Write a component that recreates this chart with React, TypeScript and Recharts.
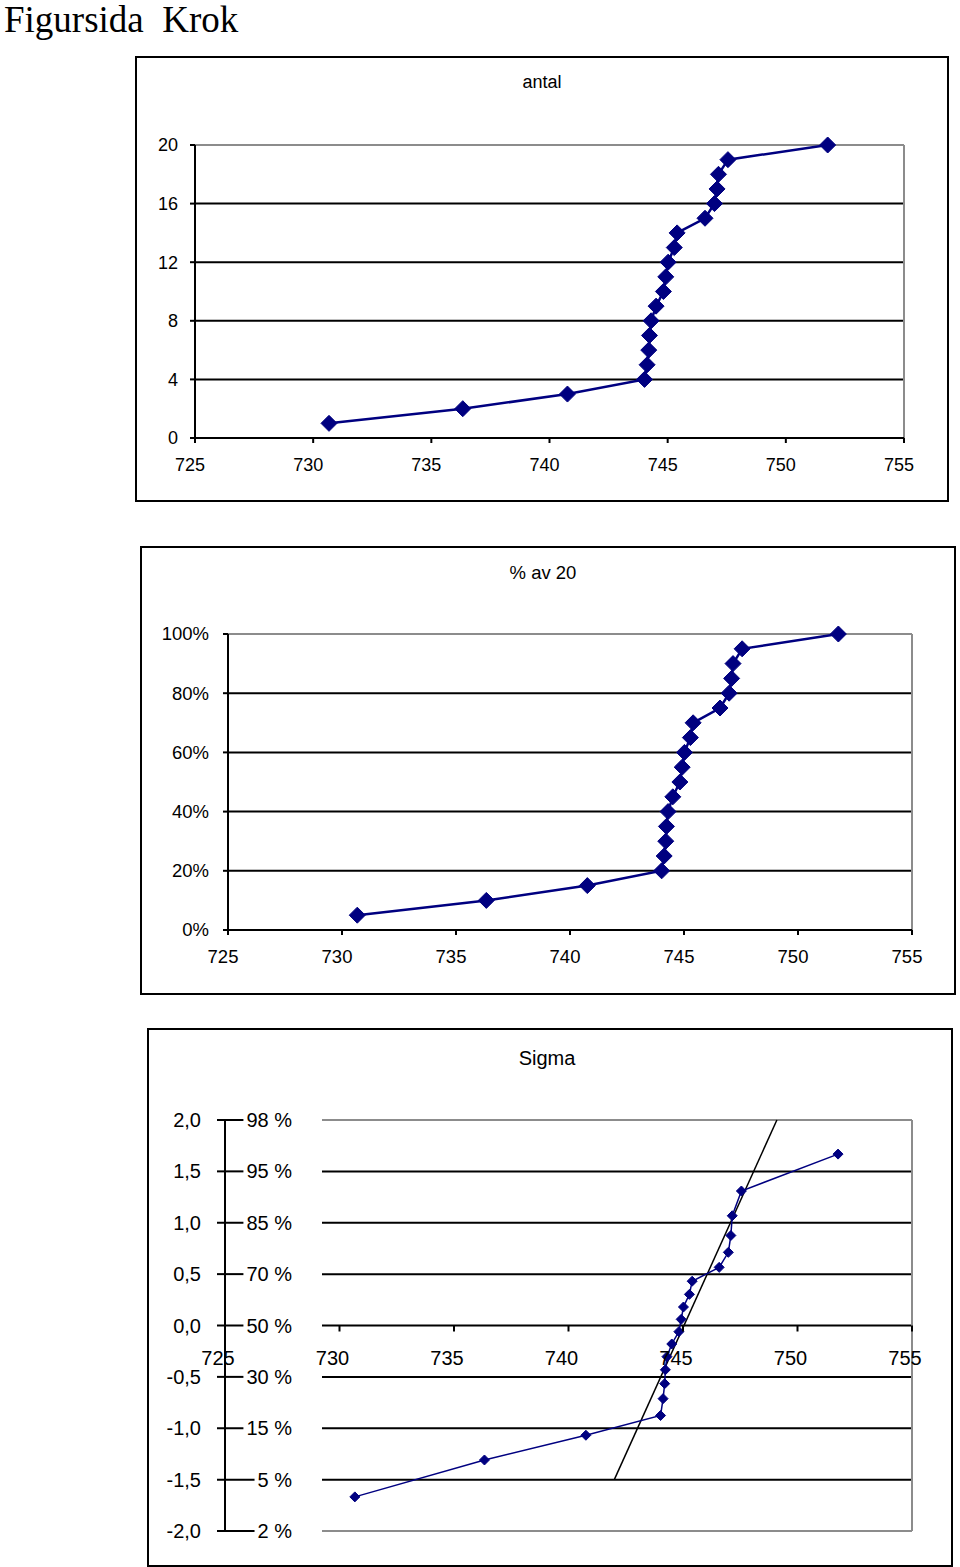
import React from 'react';
import { ComposedChart, Line, XAxis, YAxis, CartesianGrid, ReferenceLine } from 'recharts';

// ---- data ----
const measurements = [730.67, 736.33, 740.76, 744.02, 744.13, 744.2, 744.23, 744.3, 744.51, 744.82, 744.92, 745.02, 745.28, 745.4, 746.58, 746.98, 747.09, 747.15, 747.55, 751.77];
const counts = [1, 2, 3, 4, 5, 6, 7, 8, 9, 10, 11, 12, 13, 14, 15, 16, 17, 18, 19, 20];
const percentOfTotal = [5, 10, 15, 20, 25, 30, 35, 40, 45, 50, 55, 60, 65, 70, 75, 80, 85, 90, 95, 100];
const sigmaScores = [-1.668, -1.309, -1.068, -0.876, -0.712, -0.566, -0.431, -0.303, -0.18, -0.06, 0.06, 0.18, 0.303, 0.431, 0.566, 0.712, 0.876, 1.068, 1.309, 1.668];
const fitLineX = [742.0, 749.1];
const fitLineSigma = [-1.5, 2.0];

const xTicks = [725, 730, 735, 740, 745, 750, 755];
const countTicks = [0, 4, 8, 12, 16, 20];
const percentTicks = [0, 20, 40, 60, 80, 100];
const sigmaTicks = [-2, -1.5, -1, -0.5, 0, 0.5, 1, 1.5, 2];
const sigmaPercentLabels = ['2 %', '5 %', '15 %', '30 %', '50 %', '70 %', '85 %', '95 %', '98 %'];

const countData = measurements.map((x, i) => ({ x, y: counts[i] }));
const percentData = measurements.map((x, i) => ({ x, y: percentOfTotal[i] }));
const sigmaData = measurements.map((x, i) => ({ x, y: sigmaScores[i] }));
const fitData = fitLineX.map((x, i) => ({ x, y: fitLineSigma[i] }));

const NAVY = '#000080';
const GRAY = '#8c8c8c';
const FONT = '"Liberation Sans", Arial, Helvetica, sans-serif';

const makeDot = (r: number) => (p: any) => {
  const { cx, cy, index } = p;
  if (cx == null || cy == null) return <g key={`e-${index}`} />;
  return (
    <polygon
      key={`d-${index}`}
      points={`${cx},${cy - r} ${cx + r},${cy} ${cx},${cy + r} ${cx - r},${cy}`}
      fill={NAVY}
      stroke={NAVY}
      strokeWidth={1}
    />
  );
};

const makeGrid = (top: number, bottom: number, shift: number, grayBottom: boolean) => (p: any) => {
  const isTop = Math.abs(p.y1 - top) < 1.5;
  const isBottom = Math.abs(p.y1 - bottom) < 1.5;
  const gray = isTop || (grayBottom && isBottom);
  return (
    <line
      key={`g-${p.index}-${p.y1}`}
      x1={p.x1 + shift}
      x2={p.x2}
      y1={p.y1}
      y2={p.y2}
      stroke={gray ? GRAY : '#000'}
      strokeWidth={2}
    />
  );
};

const makeXTick = (fontSize: number, dx: number, dy: number) => (p: any) => (
  <text x={p.x + dx} y={p.y + dy} textAnchor="middle" fontFamily={FONT} fontSize={fontSize} fill="#000">
    {p.payload.value}
  </text>
);

const makeYTick = (fontSize: number, dx: number, fmt: (v: number) => string) => (p: any) => (
  <text x={p.x + dx} y={p.y + fontSize * 0.35} textAnchor="end" fontFamily={FONT} fontSize={fontSize} fill="#000">
    {fmt(p.payload.value)}
  </text>
);

// Chart 3 geometry (positions/styles only)
const S_W = 804;
const S_H = 537;
const S_TOP = 91;
const S_YAXIS_W = 77;
const S_RIGHT = 40;
const S_XAXIS_H = 30;
const S_BOTTOM = 5;
const S_PLOT_H = S_H - S_TOP - S_XAXIS_H - S_BOTTOM;

const SigmaXTick = (p: any) => {
  const y0 = p.y - S_PLOT_H / 2;
  return (
    <g>
      <line x1={p.x} x2={p.x} y1={y0} y2={y0 + 6} stroke="#000" strokeWidth={2} />
      <text x={p.x - 7} y={y0 + 39} textAnchor="middle" fontFamily={FONT} fontSize={20} fill="#000">
        {p.payload.value}
      </text>
    </g>
  );
};

const SigmaYTick = (p: any) => {
  const v = p.payload.value;
  const idx = sigmaTicks.indexOf(v);
  const pct = sigmaPercentLabels[idx] ?? '';
  const w = (pct.length - 2) * 11.12 + 5.56 + 17.78;
  const labelRight = p.x + 67;
  const dashEnd = Math.max(p.x + 15, labelRight - w - 3);
  return (
    <g>
      <line x1={p.x - 8} x2={dashEnd} y1={p.y} y2={p.y} stroke="#000" strokeWidth={2} />
      <text x={p.x - 24} y={p.y + 7} textAnchor="end" fontFamily={FONT} fontSize={20} fill="#000">
        {v.toFixed(1).replace('.', ',')}
      </text>
      <text x={labelRight} y={p.y + 7} textAnchor="end" fontFamily={FONT} fontSize={20} fill="#000">
        {pct}
      </text>
    </g>
  );
};

const box = (left: number, top: number, right: number, bottom: number): React.CSSProperties => ({
  position: 'absolute',
  left,
  top,
  width: right - left,
  height: bottom - top,
  border: '2px solid #000',
  boxSizing: 'border-box',
});

export default function App() {
  return (
    <div style={{ position: 'absolute', left: 0, top: 0, width: 960, height: 1567, background: '#fff', overflow: 'hidden' }}>
      <div
        style={{
          position: 'absolute',
          left: 4,
          top: 1,
          fontFamily: '"Liberation Serif", "Times New Roman", serif',
          fontSize: 37,
          lineHeight: 1,
          whiteSpace: 'pre',
          color: '#000',
        }}
      >
        {'Figursida  Krok'}
      </div>

      {/* Chart 1: antal */}
      <div style={box(135, 56, 949, 502)} />
      <div style={{ position: 'absolute', left: 342, width: 400, top: 73, textAlign: 'center', fontFamily: FONT, fontSize: 18, lineHeight: '18px' }}>
        antal
      </div>
      <div style={{ position: 'absolute', left: 136, top: 57 }}>
        <ComposedChart width={812} height={444} margin={{ top: 88, right: 44, bottom: 23, left: 0 }}>
          <CartesianGrid vertical={false} horizontal={makeGrid(88, 381, 0, false)} />
          <XAxis
            type="number"
            dataKey="x"
            domain={[725, 755]}
            ticks={xTicks}
            interval={0}
            height={40}
            axisLine={{ stroke: '#000', strokeWidth: 2 }}
            tickLine={{ stroke: '#000', strokeWidth: 2 }}
            tickSize={5}
            tickMargin={0}
            tick={makeXTick(18, -5, 28)}
          />
          <YAxis
            type="number"
            domain={[0, 20]}
            ticks={countTicks}
            interval={0}
            width={59}
            axisLine={{ stroke: '#000', strokeWidth: 2 }}
            tickLine={{ stroke: '#000', strokeWidth: 2 }}
            tickSize={5}
            tickMargin={0}
            tick={makeYTick(18, -12, (v) => String(v))}
          />
          <ReferenceLine x={755} stroke={GRAY} strokeWidth={2} />
          <Line
            data={countData}
            dataKey="y"
            type="linear"
            stroke={NAVY}
            strokeWidth={2.5}
            dot={makeDot(8)}
            activeDot={false}
            isAnimationActive={false}
          />
        </ComposedChart>
      </div>

      {/* Chart 2: % av 20 */}
      <div style={box(140, 546, 956, 995)} />
      <div style={{ position: 'absolute', left: 343, width: 400, top: 564, textAlign: 'center', fontFamily: FONT, fontSize: 18.5, lineHeight: '18px' }}>
        % av 20
      </div>
      <div style={{ position: 'absolute', left: 141, top: 547 }}>
        <ComposedChart width={814} height={447} margin={{ top: 87, right: 43, bottom: 24, left: 0 }}>
          <CartesianGrid vertical={false} horizontal={makeGrid(87, 383, 0, false)} />
          <XAxis
            type="number"
            dataKey="x"
            domain={[725, 755]}
            ticks={xTicks}
            interval={0}
            height={40}
            axisLine={{ stroke: '#000', strokeWidth: 2 }}
            tickLine={{ stroke: '#000', strokeWidth: 2 }}
            tickSize={5}
            tickMargin={0}
            tick={makeXTick(18.5, -5, 28)}
          />
          <YAxis
            type="number"
            domain={[0, 100]}
            ticks={percentTicks}
            interval={0}
            width={87}
            axisLine={{ stroke: '#000', strokeWidth: 2 }}
            tickLine={{ stroke: '#000', strokeWidth: 2 }}
            tickSize={5}
            tickMargin={0}
            tick={makeYTick(18.5, -14, (v) => `${v}%`)}
          />
          <ReferenceLine x={755} stroke={GRAY} strokeWidth={2} />
          <Line
            data={percentData}
            dataKey="y"
            type="linear"
            stroke={NAVY}
            strokeWidth={2.5}
            dot={makeDot(8)}
            activeDot={false}
            isAnimationActive={false}
          />
        </ComposedChart>
      </div>

      {/* Chart 3: Sigma */}
      <div style={box(147, 1028, 953, 1567)} />
      <div style={{ position: 'absolute', left: 347, width: 400, top: 1048, textAlign: 'center', fontFamily: FONT, fontSize: 20, lineHeight: '20px' }}>
        Sigma
      </div>
      <div style={{ position: 'absolute', left: 148, top: 1029 }}>
        <ComposedChart width={S_W} height={S_H} margin={{ top: S_TOP, right: S_RIGHT, bottom: S_BOTTOM, left: 0 }}>
          <CartesianGrid vertical={false} horizontal={makeGrid(S_TOP, S_TOP + S_PLOT_H, 97, true)} />
          <XAxis
            type="number"
            dataKey="x"
            domain={[725, 755]}
            ticks={xTicks}
            interval={0}
            height={S_XAXIS_H}
            axisLine={false}
            tickLine={false}
            tickSize={0}
            tickMargin={0}
            tick={SigmaXTick}
          />
          <YAxis
            type="number"
            domain={[-2, 2]}
            ticks={sigmaTicks}
            interval={0}
            width={S_YAXIS_W}
            axisLine={{ stroke: '#000', strokeWidth: 2 }}
            tickLine={false}
            tickSize={0}
            tickMargin={0}
            tick={SigmaYTick}
          />
          <ReferenceLine x={755} stroke={GRAY} strokeWidth={2} />
          <Line
            data={fitData}
            dataKey="y"
            type="linear"
            stroke="#000"
            strokeWidth={1.5}
            dot={false}
            activeDot={false}
            isAnimationActive={false}
          />
          <Line
            data={sigmaData}
            dataKey="y"
            type="linear"
            stroke={NAVY}
            strokeWidth={1.5}
            dot={makeDot(5)}
            activeDot={false}
            isAnimationActive={false}
          />
        </ComposedChart>
      </div>
    </div>
  );
}
